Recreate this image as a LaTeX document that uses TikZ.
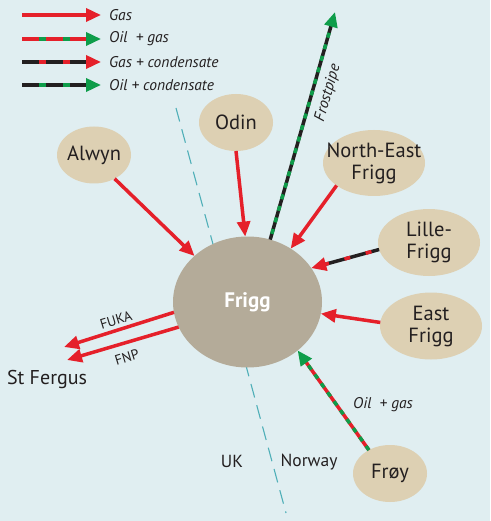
\documentclass[tikz,border=0pt]{standalone}
\usepackage{fontspec}
\setmainfont{PT Sans}
\usetikzlibrary{arrows.meta,shapes.geometric}
\definecolor{bg}{HTML}{E0EEF1}
\definecolor{pred}{HTML}{E5202A}
\definecolor{pgreen}{HTML}{0E9D4A}
\definecolor{pblack}{HTML}{231F20}
\definecolor{beige}{HTML}{DDD0B3}
\definecolor{friggc}{HTML}{B4AB99}
\definecolor{teal}{HTML}{4FAFB8}
\definecolor{txt}{HTML}{231F20}
\begin{document}
\begin{tikzpicture}[x=1pt,y=-1pt,
  field/.style={ellipse,fill=beige,inner sep=0pt,outer sep=0pt},
  fieldtxt/.style={text=txt,font=\fontsize{20.5}{22}\selectfont,align=center,inner sep=0pt},
  pipe/.style={line width=3.5pt,line cap=butt},
  headred/.style={-{Triangle[length=15pt,width=13pt,color=pred]}},
  headgreen/.style={-{Triangle[length=15pt,width=13pt,color=pgreen]}},
  overlaypipe/.style={line width=3.5pt,shorten >=14pt},
  legtext/.style={text=txt,font=\fontsize{15.5}{17}\selectfont\itshape,anchor=west,inner sep=0pt},
  smalltxt/.style={text=txt,font=\fontsize{14}{16}\selectfont,inner sep=0pt},
  regtxt/.style={text=txt,font=\fontsize{17.5}{20}\selectfont,inner sep=0pt},
  border/.style={draw=teal,line width=1.1pt,dash pattern=on 14pt off 8pt}
]
\fill[bg] (0,0) rectangle (490,521);
\useasboundingbox (0,0) rectangle (490,521);

% border line UK/Norway
\coordinate (b1) at (176,108);
\coordinate (b2) at (286,513);
\draw[border] (b1) -- (b2);

% legend
\node[legtext] (lg1) at (109,15) {Gas};
\node[legtext] (lg2) at (109,39) {Oil\ \ + gas};
\node[legtext] (lg3) at (109,62) {Gas + condensate};
\node[legtext] (lg4) at (109,85) {Oil + condensate};
\coordinate (ls1) at (22,15); \coordinate (lt1) at (101,15);
\coordinate (ls2) at (22,39); \coordinate (lt2) at (101,39);
\coordinate (ls3) at (22,62); \coordinate (lt3) at (101,62);
\coordinate (ls4) at (22,85); \coordinate (lt4) at (101,85);
\draw[pipe,draw=pred,headred] (ls1) -- (lt1);
\draw[pipe,draw=pred,headgreen] (ls2) -- (lt2);
\draw[overlaypipe,draw=pgreen,dash pattern=on 0pt off 17pt on 7pt off 17pt on 7pt off 40pt] (ls2) -- (lt2);
\draw[pipe,draw=pblack,headred] (ls3) -- (lt3);
\draw[overlaypipe,draw=pred,dash pattern=on 0pt off 17pt on 7pt off 17pt on 7pt off 40pt] (ls3) -- (lt3);
\draw[pipe,draw=pblack,headgreen] (ls4) -- (lt4);
\draw[overlaypipe,draw=pgreen,dash pattern=on 0pt off 17pt on 7pt off 17pt on 7pt off 40pt] (ls4) -- (lt4);

% fields
\node[field,minimum width=149pt,minimum height=131pt,fill=friggc,text=white,font=\fontsize{21}{24}\selectfont\bfseries] (frigg) at (247.5,302) {Frigg};
\node[field,minimum width=74pt,minimum height=57pt,label={[fieldtxt]center:Alwyn}] (alwyn) at (94,155) {};
\node[field,minimum width=74pt,minimum height=57pt,label={[fieldtxt]center:Odin}] (odin) at (236,122.5) {};
\node[field,minimum width=102pt,minimum height=66pt,label={[fieldtxt]center:North-East\\Frigg}] (ne) at (374,163) {};
\node[field,minimum width=102pt,minimum height=67pt,label={[fieldtxt]center:Lille-\\Frigg}] (lille) at (429,242.5) {};
\node[field,minimum width=102pt,minimum height=67pt,label={[fieldtxt]center:East\\Frigg}] (east) at (431,326) {};
\node[field,minimum width=74pt,minimum height=57pt,label={[fieldtxt]center:Frøy}] (froy) at (390,473.5) {};

% pipelines into Frigg
\draw[pipe,draw=pred,headred] (alwyn.311) -- (frigg.139);
\draw[pipe,draw=pred,headred] (odin.270) -- (frigg.92.6);
\draw[pipe,draw=pred,headred] (ne.211) -- (frigg.51.5);
\draw[pipe,draw=pblack,headred] (lille.188) -- (frigg.28);
\draw[overlaypipe,draw=pred,dash pattern=on 0pt off 8pt on 6pt off 8pt] (lille.188) -- (frigg.28);
\draw[pipe,draw=pred,headred] (east.176.6) -- (frigg.351.5);
\draw[pipe,draw=pred,headgreen] (froy.132.5) -- (frigg.316);
\draw[overlaypipe,draw=pgreen,dash pattern=on 5pt off 6pt] (froy.132.5) -- (frigg.316);

% Frostpipe
\coordinate (fp) at (335,12);
\draw[pipe,draw=pblack,headgreen] (frigg.70.7) -- (fp);
\draw[overlaypipe,draw=pgreen,dash pattern=on 5pt off 7pt,dash phase=6pt] (frigg.70.7) -- (fp);
\node[legtext,anchor=center,rotate=73.8] (fplabel) at (328,93) {Frostpipe};

% to St Fergus
\coordinate (fuka) at (64,347);
\coordinate (fnp) at (67,360);
\draw[pipe,draw=pred,headred] (frigg.188.4) -- (fuka);
\draw[pipe,draw=pred,headred] (frigg.200) -- (fnp);
\node[smalltxt,rotate=17] (fukal) at (116,320) {FUKA};
\node[smalltxt,rotate=17] (fnpl) at (127,357) {FNP};
\node[text=txt,font=\fontsize{20}{24}\selectfont,inner sep=0pt] (stf) at (47,379) {St Fergus};

% other labels
\node[legtext,anchor=center] (oilgas) at (383,405) {Oil\ \ + gas};
\node[regtxt] (uk) at (232,461) {UK};
\node[regtxt] (norway) at (309,462) {Norway};
\end{tikzpicture}
\end{document}
